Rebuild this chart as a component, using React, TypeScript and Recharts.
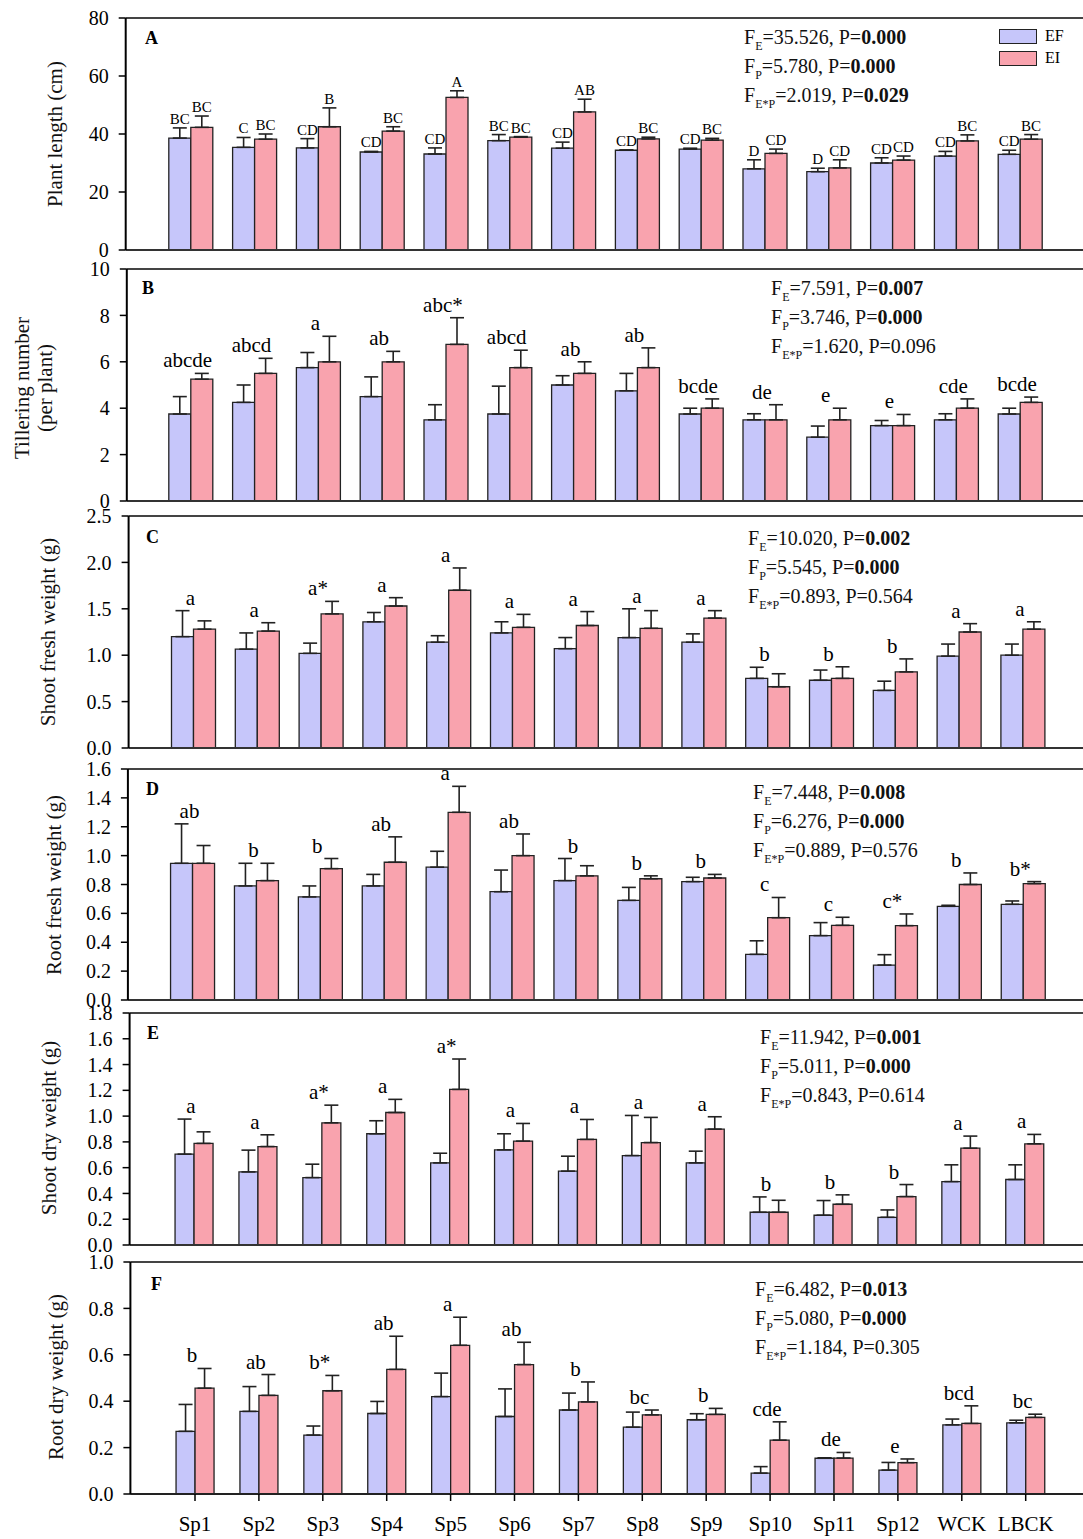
import React from "react";
import {
  ComposedChart,
  Bar,
  XAxis,
  YAxis,
  ErrorBar,
  ReferenceLine,
  ReferenceDot,
} from "recharts";

const FONT = '"Liberation Serif", "Times New Roman", Times, serif';
const EF_COLOR = "#c6c6fa";
const EI_COLOR = "#f9a3ae";
const W = 1083;
const PAD = 12;
const BOT = 12;

const categories = ["Sp1", "Sp2", "Sp3", "Sp4", "Sp5", "Sp6", "Sp7", "Sp8", "Sp9", "Sp10", "Sp11", "Sp12", "WCK", "LBCK"];

// A - plant length
const lengthEF = [38.6, 35.4, 35.2, 33.8, 33.1, 37.7, 35.1, 34.4, 34.8, 28.0, 27.0, 30.0, 32.4, 33.0];
const lengthEFErr = [3.5, 3.4, 3.2, 0.2, 2.1, 2.1, 2.1, 0.1, 0.3, 3.1, 1.2, 1.8, 1.6, 1.4];
const lengthEI = [42.3, 38.2, 42.5, 41.0, 52.6, 38.9, 47.6, 38.3, 37.9, 33.3, 28.3, 31.0, 37.6, 38.2];
const lengthEIErr = [3.9, 1.8, 6.5, 1.5, 2.3, 0.2, 4.4, 0.6, 0.6, 1.5, 2.8, 1.4, 2.1, 1.6];
const lengthEFLetters = ["BC", "C", "CD", "CD", "CD", "BC", "CD", "CD", "CD", "D", "D", "CD", "CD", "CD"];
const lengthEILetters = ["BC", "BC", "B", "BC", "A", "BC", "AB", "BC", "BC", "CD", "CD", "CD", "BC", "BC"];
const lengthTicks = [0, 20, 40, 60, 80];

// B - tillering number
const tillerEF = [3.75, 4.25, 5.75, 4.5, 3.5, 3.75, 5.0, 4.75, 3.75, 3.5, 2.75, 3.25, 3.5, 3.75];
const tillerEFErr = [0.75, 0.75, 0.65, 0.85, 0.65, 1.2, 0.4, 0.75, 0.25, 0.26, 0.48, 0.22, 0.26, 0.25];
const tillerEI = [5.25, 5.5, 6.0, 6.0, 6.75, 5.75, 5.5, 5.75, 4.0, 3.5, 3.5, 3.25, 4.0, 4.25];
const tillerEIErr = [0.25, 0.65, 1.1, 0.45, 1.15, 0.75, 0.5, 0.85, 0.4, 0.65, 0.5, 0.48, 0.4, 0.23];
const tillerLetters = ["abcde", "abcd", "a", "ab", "abc*", "abcd", "ab", "ab", "bcde", "de", "e", "e", "cde", "bcde"];
const tillerTicks = [0, 2, 4, 6, 8, 10];

// C - shoot fresh weight
const sfwEF = [1.2, 1.065, 1.02, 1.36, 1.14, 1.24, 1.07, 1.19, 1.14, 0.75, 0.73, 0.62, 0.99, 1.0];
const sfwEFErr = [0.28, 0.175, 0.11, 0.1, 0.07, 0.12, 0.12, 0.31, 0.09, 0.12, 0.11, 0.1, 0.13, 0.12];
const sfwEI = [1.28, 1.26, 1.445, 1.53, 1.7, 1.3, 1.32, 1.29, 1.4, 0.66, 0.75, 0.82, 1.25, 1.28];
const sfwEIErr = [0.09, 0.09, 0.135, 0.09, 0.24, 0.14, 0.15, 0.19, 0.08, 0.14, 0.125, 0.14, 0.09, 0.08];
const sfwLetters = ["a", "a", "a*", "a", "a", "a", "a", "a", "a", "b", "b", "b", "a", "a"];
const sfwTicks = [0, 0.5, 1.0, 1.5, 2.0, 2.5];

// D - root fresh weight
const rfwEF = [0.947, 0.79, 0.714, 0.79, 0.92, 0.75, 0.827, 0.69, 0.82, 0.316, 0.446, 0.242, 0.649, 0.663];
const rfwEFErr = [0.273, 0.157, 0.076, 0.08, 0.11, 0.15, 0.153, 0.09, 0.03, 0.094, 0.09, 0.072, 0.007, 0.023];
const rfwEI = [0.947, 0.827, 0.91, 0.954, 1.3, 1.0, 0.86, 0.84, 0.845, 0.57, 0.517, 0.515, 0.8, 0.806];
const rfwEIErr = [0.123, 0.12, 0.07, 0.176, 0.18, 0.15, 0.07, 0.02, 0.025, 0.14, 0.056, 0.081, 0.08, 0.014];
const rfwLetters = ["ab", "b", "b", "ab", "a", "ab", "b", "b", "b", "c", "c", "c*", "b", "b*"];
const rfwTicks = [0, 0.2, 0.4, 0.6, 0.8, 1.0, 1.2, 1.4, 1.6];

// E - shoot dry weight
const sdwEF = [0.705, 0.567, 0.523, 0.863, 0.637, 0.738, 0.573, 0.694, 0.637, 0.254, 0.231, 0.215, 0.492, 0.508];
const sdwEFErr = [0.272, 0.169, 0.104, 0.101, 0.075, 0.125, 0.116, 0.311, 0.091, 0.119, 0.114, 0.057, 0.13, 0.114];
const sdwEI = [0.788, 0.764, 0.948, 1.028, 1.207, 0.806, 0.819, 0.795, 0.899, 0.254, 0.316, 0.376, 0.751, 0.785];
const sdwEIErr = [0.09, 0.091, 0.137, 0.102, 0.236, 0.137, 0.155, 0.195, 0.096, 0.093, 0.073, 0.093, 0.094, 0.073];
const sdwLetters = ["a", "a", "a*", "a", "a*", "a", "a", "a", "a", "b", "b", "b", "a", "a"];
const sdwTicks = [0, 0.2, 0.4, 0.6, 0.8, 1.0, 1.2, 1.4, 1.6, 1.8];

// F - root dry weight
const rdwEF = [0.27, 0.356, 0.254, 0.347, 0.42, 0.334, 0.362, 0.288, 0.32, 0.09, 0.154, 0.103, 0.298, 0.307];
const rdwEFErr = [0.116, 0.107, 0.039, 0.052, 0.101, 0.119, 0.073, 0.065, 0.026, 0.028, 0.002, 0.033, 0.025, 0.011];
const rdwEI = [0.456, 0.425, 0.445, 0.537, 0.641, 0.558, 0.397, 0.341, 0.343, 0.232, 0.155, 0.135, 0.304, 0.33];
const rdwEIErr = [0.085, 0.09, 0.066, 0.143, 0.121, 0.096, 0.086, 0.021, 0.026, 0.079, 0.024, 0.016, 0.076, 0.014];
const rdwLetters = ["b", "ab", "b*", "ab", "a", "ab", "b", "bc", "b", "cde", "de", "e", "bcd", "bc"];
const rdwTicks = [0, 0.2, 0.4, 0.6, 0.8, 1.0];

// two-way ANOVA: [F_E, P], [F_P, P], [F_E*P, P]
const lengthStats = [["35.526", "0.000"], ["5.780", "0.000"], ["2.019", "0.029"]];
const tillerStats = [["7.591", "0.007"], ["3.746", "0.000"], ["1.620", "0.096"]];
const sfwStats = [["10.020", "0.002"], ["5.545", "0.000"], ["0.893", "0.564"]];
const rfwStats = [["7.448", "0.008"], ["6.276", "0.000"], ["0.889", "0.576"]];
const sdwStats = [["11.942", "0.001"], ["5.011", "0.000"], ["0.843", "0.614"]];
const rdwStats = [["6.482", "0.013"], ["5.080", "0.000"], ["1.184", "0.305"]];
const statSubs = ["E", "P", "E*P"];

type PanelProps = {
  ef: number[];
  efErr: number[];
  ei: number[];
  eiErr: number[];
  ticks: number[];
  digits: number;
  top: number;
  plotH: number;
  axisX: number;
  firstCenter: number;
  spacing: number;
  barSize: number;
  showX?: boolean;
  efLetters?: string[];
  eiLetters?: string[];
  groupLetters?: string[];
};

function Panel(p: PanelProps) {
  const rows = categories.map((name, i) => ({
    name,
    ef: p.ef[i],
    ei: p.ei[i],
    efErr: [0, p.efErr[i]],
    eiErr: [0, p.eiErr[i]],
    efCap: p.ef[i] + p.efErr[i],
    eiCap: p.ei[i] + p.eiErr[i],
  }));
  const yMax = p.ticks[p.ticks.length - 1];
  const pL = p.firstCenter - p.axisX - p.spacing / 2;
  const pR = W - p.axisX - p.spacing * categories.length - pL;
  const xh = p.showX ? 45 : 0;
  const bot = p.showX ? 0 : BOT;
  const h = PAD + p.plotH + xh + bot;

  const labels: React.ReactNode[] = [];
  rows.forEach((r, i) => {
    if (p.efLetters && p.eiLetters) {
      labels.push(
        <ReferenceDot key={"ef" + i} x={r.name} y={r.efCap} r={0} ifOverflow="visible"
          shape={(s: any) => (
            <text x={s.cx - p.barSize / 2} y={s.cy - 4} textAnchor="middle" fontFamily={FONT} fontSize={15} fill="#000">
              {p.efLetters![i]}
            </text>
          )}
        />
      );
      labels.push(
        <ReferenceDot key={"ei" + i} x={r.name} y={r.eiCap} r={0} ifOverflow="visible"
          shape={(s: any) => (
            <text x={s.cx + p.barSize / 2} y={s.cy - 4} textAnchor="middle" fontFamily={FONT} fontSize={15} fill="#000">
              {p.eiLetters![i]}
            </text>
          )}
        />
      );
    } else if (p.groupLetters) {
      labels.push(
        <ReferenceDot key={"g" + i} x={r.name} y={Math.max(r.efCap, r.eiCap)} r={0} ifOverflow="visible"
          shape={(s: any) => (
            <text x={s.cx - 3} y={s.cy - 6} textAnchor="middle" fontFamily={FONT} fontSize={21} fill="#000">
              {p.groupLetters![i]}
            </text>
          )}
        />
      );
    }
  });

  return (
    <div style={{ position: "absolute", left: 0, top: p.top - PAD, width: W, height: h }}>
      <ComposedChart
        width={W}
        height={h}
        data={rows}
        margin={{ top: PAD, right: 0, bottom: bot, left: 0 }}
        barGap={0}
        barSize={p.barSize}
      >
        <XAxis
          dataKey="name"
          hide={!p.showX}
          height={xh}
          padding={{ left: pL, right: pR }}
          interval={0}
          tickSize={7}
          tickMargin={15}
          axisLine={{ stroke: "#222", strokeWidth: 2 }}
          tickLine={{ stroke: "#000", strokeWidth: 1.5 }}
          tick={{ fontFamily: FONT, fontSize: 21, fill: "#000" }}
        />
        <YAxis
          type="number"
          domain={[0, yMax]}
          ticks={p.ticks}
          width={p.axisX}
          interval={0}
          tickFormatter={(v: number) => v.toFixed(p.digits)}
          tickSize={7}
          tickMargin={10}
          axisLine={{ stroke: "#000", strokeWidth: 2 }}
          tickLine={{ stroke: "#000", strokeWidth: 1.5 }}
          tick={{ fontFamily: FONT, fontSize: 20, fill: "#000" }}
        />
        <Bar dataKey="ef" fill={EF_COLOR} stroke="#222" strokeWidth={1.3} isAnimationActive={false}>
          <ErrorBar dataKey="efErr" direction="y" width={7} stroke="#222" strokeWidth={1.6} />
        </Bar>
        <Bar dataKey="ei" fill={EI_COLOR} stroke="#222" strokeWidth={1.3} isAnimationActive={false}>
          <ErrorBar dataKey="eiErr" direction="y" width={7} stroke="#222" strokeWidth={1.6} />
        </Bar>
        <ReferenceLine y={0} stroke="#333" strokeWidth={2} />
        <ReferenceLine y={yMax} stroke="#444" strokeWidth={2} />
        {labels}
      </ComposedChart>
    </div>
  );
}

function Stats({ x, y, stats }: { x: number; y: number; stats: string[][] }) {
  return (
    <div style={{ position: "absolute", left: x, top: y - 14, fontFamily: FONT, fontSize: 20, lineHeight: "29px", color: "#111", whiteSpace: "nowrap" }}>
      {stats.map(([f, pv], i) => (
        <div key={i} style={{ height: 29 }}>
          F<span style={{ fontSize: 12, lineHeight: 0, position: "relative", top: 6 }}>{statSubs[i]}</span>={f}, P=
          {parseFloat(pv) < 0.05 ? <b>{pv}</b> : pv}
        </div>
      ))}
    </div>
  );
}

function YTitle({ x, y, lines }: { x: number; y: number; lines: string[] }) {
  return (
    <div
      style={{
        position: "absolute",
        left: x,
        top: y,
        transform: "translate(-50%, -50%) rotate(-90deg)",
        fontFamily: FONT,
        fontSize: 21,
        lineHeight: "23px",
        textAlign: "center",
        whiteSpace: "nowrap",
        color: "#111",
      }}
    >
      {lines.map((l, i) => (
        <div key={i}>{l}</div>
      ))}
    </div>
  );
}

function Letter({ x, y, t }: { x: number; y: number; t: string }) {
  return (
    <div style={{ position: "absolute", left: x, top: y - 11, fontFamily: FONT, fontWeight: "bold", fontSize: 18, lineHeight: "22px" }}>
      {t}
    </div>
  );
}

export default function App() {
  return (
    <div style={{ position: "absolute", left: 0, top: 0, width: W, height: 1539, background: "#fff", overflow: "hidden" }}>
      <Panel ef={lengthEF} efErr={lengthEFErr} ei={lengthEI} eiErr={lengthEIErr} ticks={lengthTicks} digits={0}
        top={18} plotH={232} axisX={125.7} firstCenter={190.7} spacing={63.8} barSize={22}
        efLetters={lengthEFLetters} eiLetters={lengthEILetters} />
      <Panel ef={tillerEF} efErr={tillerEFErr} ei={tillerEI} eiErr={tillerEIErr} ticks={tillerTicks} digits={0}
        top={269} plotH={232} axisX={126.8} firstCenter={190.7} spacing={63.8} barSize={22}
        groupLetters={tillerLetters} />
      <Panel ef={sfwEF} efErr={sfwEFErr} ei={sfwEI} eiErr={sfwEIErr} ticks={sfwTicks} digits={1}
        top={516} plotH={232} axisX={128.6} firstCenter={193.4} spacing={63.8} barSize={22}
        groupLetters={sfwLetters} />
      <Panel ef={rfwEF} efErr={rfwEFErr} ei={rfwEI} eiErr={rfwEIErr} ticks={rfwTicks} digits={1}
        top={769} plotH={231} axisX={127.9} firstCenter={192.5} spacing={63.9} barSize={22}
        groupLetters={rfwLetters} />
      <Panel ef={sdwEF} efErr={sdwEFErr} ei={sdwEI} eiErr={sdwEIErr} ticks={sdwTicks} digits={1}
        top={1013} plotH={232} axisX={129.6} firstCenter={194} spacing={63.9} barSize={19}
        groupLetters={sdwLetters} />
      <Panel ef={rdwEF} efErr={rdwEFErr} ei={rdwEI} eiErr={rdwEIErr} ticks={rdwTicks} digits={1}
        top={1262} plotH={232} axisX={130.4} firstCenter={195} spacing={63.9} barSize={19}
        groupLetters={rdwLetters} showX />

      <YTitle x={55} y={134} lines={["Plant length (cm)"]} />
      <YTitle x={34} y={388} lines={["Tillering number", "(per plant)"]} />
      <YTitle x={48} y={632} lines={["Shoot fresh weight (g)"]} />
      <YTitle x={54} y={885} lines={["Root fresh weight (g)"]} />
      <YTitle x={49} y={1128} lines={["Shoot dry weight (g)"]} />
      <YTitle x={56} y={1377} lines={["Root dry weight (g)"]} />

      <Letter x={145} y={38} t="A" />
      <Letter x={142} y={288} t="B" />
      <Letter x={146} y={537} t="C" />
      <Letter x={146} y={789} t="D" />
      <Letter x={147} y={1033} t="E" />
      <Letter x={151} y={1284} t="F" />

      <Stats x={744} y={37} stats={lengthStats} />
      <Stats x={771} y={288} stats={tillerStats} />
      <Stats x={748} y={538} stats={sfwStats} />
      <Stats x={753} y={792} stats={rfwStats} />
      <Stats x={760} y={1037} stats={sdwStats} />
      <Stats x={755} y={1289} stats={rdwStats} />

      <div style={{ position: "absolute", left: 999, top: 29, width: 36, height: 13, background: EF_COLOR, border: "1.5px solid #222" }} />
      <div style={{ position: "absolute", left: 999, top: 51, width: 36, height: 13, background: EI_COLOR, border: "1.5px solid #222" }} />
      <div style={{ position: "absolute", left: 1045, top: 27, fontFamily: FONT, fontSize: 16, lineHeight: "18px" }}>EF</div>
      <div style={{ position: "absolute", left: 1045, top: 49, fontFamily: FONT, fontSize: 16, lineHeight: "18px" }}>EI</div>
    </div>
  );
}
